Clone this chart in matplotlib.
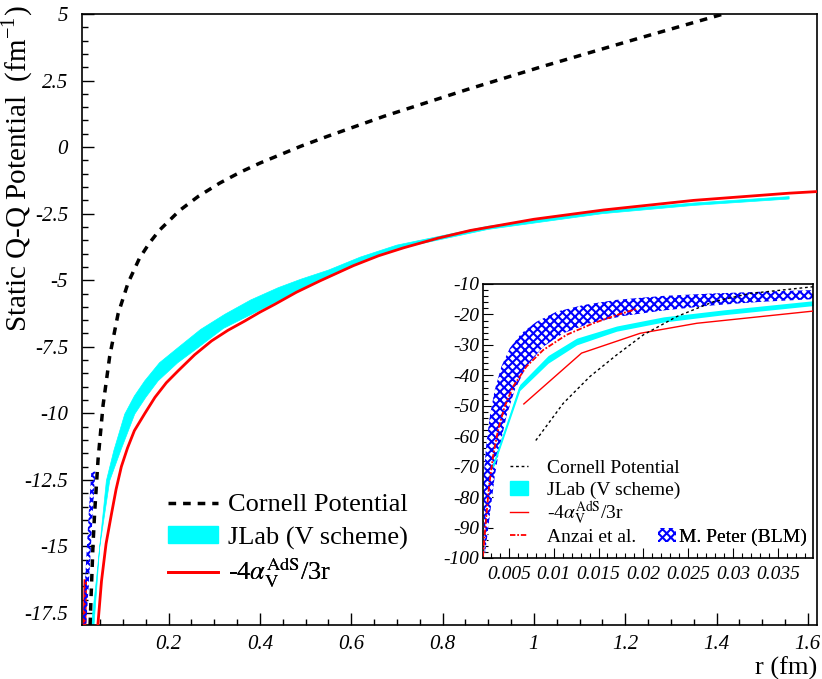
import numpy as np
import matplotlib.pyplot as plt
from matplotlib.lines import Line2D
from matplotlib.patches import Patch

plt.rcParams['font.family'] = ['Liberation Serif', 'DejaVu Serif']
plt.rcParams['mathtext.fontset'] = 'stix'
plt.rcParams['axes.unicode_minus'] = False
plt.rcParams['hatch.linewidth'] = 1.5

# ---- main panel (r in fm, V in fm^-1) ----
cornell_r = [0.028, 0.0308, 0.0345, 0.0381, 0.0454, 0.0564, 0.071, 0.0892, 0.111, 0.136,
             0.158, 0.180, 0.224, 0.265, 0.312, 0.356, 0.400, 0.489, 0.547, 0.672,
             0.855, 1.017, 1.222, 1.415]
cornell_v = [-17.96, -16.6, -14.9, -13.7, -11.75, -9.7, -7.85, -6.27, -5.11, -4.18,
             -3.6, -3.12, -2.38, -1.85, -1.35, -0.95, -0.60, 0.03, 0.40, 1.16,
             2.17, 3.02, 4.05, 5.0]

jlab_up_r = [0.0308, 0.0417, 0.0564, 0.0637, 0.08, 0.1039, 0.125, 0.1477, 0.18, 0.2208,
             0.27, 0.3231, 0.38, 0.4401, 0.49, 0.55, 0.62, 0.70, 0.90, 1.15, 1.35, 1.559]
jlab_up_v = [-17.96, -16.28, -13.78, -12.53, -11.4, -10.03, -9.35, -8.78, -8.1, -7.53,
             -6.85, -6.28, -5.74, -5.28, -4.96, -4.62, -4.13, -3.68, -2.97, -2.40, -2.10, -1.86]
jlab_lo_r = [0.0366, 0.0490, 0.0710, 0.095, 0.1258, 0.15, 0.1770, 0.22, 0.2647, 0.32,
             0.3816, 0.4401, 0.49, 0.55, 0.62, 0.70, 0.90, 1.15, 1.35, 1.559]
jlab_lo_v = [-17.96, -15.03, -12.53, -11.4, -10.03, -9.4, -8.78, -8.1, -7.53, -6.81,
             -6.28, -5.78, -5.35, -4.90, -4.34, -3.82, -3.09, -2.50, -2.19, -1.95]

ads_r = [0.045, 0.053, 0.063, 0.0746, 0.085, 0.0965, 0.11, 0.125, 0.148, 0.170, 0.195,
         0.221, 0.257, 0.294, 0.33, 0.367, 0.40, 0.433, 0.48, 0.532, 0.605, 0.66, 0.715,
         0.79, 0.861, 1.0, 1.153, 1.35, 1.559, 1.62]
ads_v = [-17.96, -16.3, -14.9, -13.8, -12.85, -12.0, -11.3, -10.65, -10.0, -9.4, -8.85,
         -8.4, -7.8, -7.28, -6.88, -6.53, -6.2, -5.9, -5.45, -5.02, -4.45, -4.08, -3.78,
         -3.42, -3.13, -2.71, -2.36, -2.0, -1.73, -1.67]

anzai_main_r = [0.0160, 0.0175]
anzai_main_v = [-17.96, -16.3]

peter_main_l_r = [0.0307, 0.0249, 0.0190, 0.0118]
peter_main_r_r = [0.0395, 0.0337, 0.0279, 0.0198]
peter_main_v = [-12.19, -13.78, -15.65, -17.9]

# ---- inset (small r) ----
in_cornell_r = [0.00801, 0.01107, 0.01404, 0.01702, 0.02000, 0.02372, 0.02782, 0.03191, 0.03891]
in_cornell_v = [-61.4, -49.2, -40.4, -33.3, -26.7, -20.7, -15.8, -13.1, -10.9]

in_jlab_r = [0.00325, 0.00623, 0.00939, 0.01256, 0.01702, 0.02223, 0.02893, 0.03891]
in_jlab_up = [-69.5, -43.0, -33.5, -27.8, -23.8, -20.8, -18.5, -15.5]
in_jlab_lo = [-70.5, -45.0, -36.0, -30.0, -25.5, -22.5, -20.1, -17.1]

in_ads_r = [0.00668, 0.01311, 0.01963, 0.02596, 0.03891]
in_ads_v = [-49.4, -32.7, -26.2, -22.9, -18.9]

in_anzai_r = [0.00213, 0.00243, 0.00280, 0.00325, 0.00381, 0.00455, 0.00548, 0.00697,
              0.00883, 0.01144, 0.01442, 0.01702, 0.01926]
in_anzai_v = [-99.5, -88.5, -76.5, -66.6, -57.9, -50.2, -43.7, -37.1, -31.7, -26.7,
              -22.9, -20.2, -18.2]

peter_up_r = [0.00213, 0.00251, 0.00288, 0.00344, 0.00418, 0.00511, 0.00641, 0.00809,
              0.01032, 0.01330, 0.01702, 0.02223, 0.02782, 0.03340, 0.03891]
peter_up_v = [-75.4, -62.3, -53.5, -44.8, -37.1, -31.1, -26.2, -22.4, -19.1, -16.9,
              -15.2, -13.9, -13.1, -12.5, -12.0]
peter_lo_r = [0.00232, 0.00288, 0.00344, 0.00400, 0.00474, 0.00567, 0.00697, 0.00883,
              0.01107, 0.01404, 0.01777, 0.02223, 0.02782, 0.03340, 0.03891]
peter_lo_v = [-99.5, -86.3, -73.2, -63.4, -53.5, -44.8, -37.1, -30.6, -26.2, -22.9,
              -20.5, -18.7, -17.0, -15.8, -15.0]

x_ticks = [0.2, 0.4, 0.6, 0.8, 1.0, 1.2, 1.4, 1.6]
x_labels = ['0.2', '0.4', '0.6', '0.8', '1', '1.2', '1.4', '1.6']
y_ticks = [5, 2.5, 0, -2.5, -5, -7.5, -10, -12.5, -15, -17.5]
y_labels = ['5', '2.5', '0', '-2.5', '-5', '-7.5', '-10', '-12.5', '-15', '-17.5']
in_x_ticks = [0.005, 0.01, 0.015, 0.02, 0.025, 0.03, 0.035]
in_x_labels = ['0.005', '0.01', '0.015', '0.02', '0.025', '0.03', '0.035']
in_y_ticks = [-10, -20, -30, -40, -50, -60, -70, -80, -90, -100]
in_y_labels = ['-10', '-20', '-30', '-40', '-50', '-60', '-70', '-80', '-90', '-100']

W, H = 822, 679
fig = plt.figure(figsize=(W / 100, H / 100), dpi=100)
ax = fig.add_axes([82 / W, 54 / H, 735 / W, 611 / H])


def legend_row(axes, handle, label, x, y, fs, hl, pad, hh=0.6):
    lg = axes.legend([handle], [label], loc='center left', bbox_to_anchor=(x / W, 1 - y / H),
                     bbox_transform=fig.transFigure, frameon=False, fontsize=fs, borderpad=0,
                     borderaxespad=0, handlelength=hl, handletextpad=pad, handleheight=hh)
    axes.add_artist(lg)


ax.fill(jlab_up_r + jlab_lo_r[::-1], jlab_up_v + jlab_lo_v[::-1], color='cyan', lw=0.5, zorder=2)
ax.plot(ads_r, ads_v, color='red', lw=2, zorder=3)
ax.plot(cornell_r, cornell_v, color='black', lw=2.5, ls=(0, (2.2, 2.0)), zorder=4)
ax.plot(anzai_main_r, anzai_main_v, color='red', lw=2.5, zorder=3)
ax.fill(peter_main_l_r + peter_main_r_r[::-1], peter_main_v + peter_main_v[::-1],
        facecolor='none', edgecolor='blue', hatch='xxxx', lw=0, zorder=3)

ax.set_xlim(0.0103, 1.62)
ax.set_ylim(-17.95, 5)
ax.set_xticks(x_ticks, x_labels, fontstyle='italic', fontsize=15)
ax.set_yticks(y_ticks, y_labels, fontstyle='italic', fontsize=15)
ax.set_xticks(np.arange(0.05, 1.61, 0.05), minor=True)
ax.set_yticks(np.arange(-17.5, 5.01, 0.5), minor=True)
ax.tick_params(which='both', direction='in', top=False, right=False, width=1)
ax.tick_params(which='major', length=8.5)
ax.tick_params(which='minor', length=4.3)
ax.tick_params(axis='y', pad=10)
ax.tick_params(axis='x', pad=7)
for s in ax.spines.values():
    s.set_linewidth(1.2)

legend_row(ax, Line2D([], [], color='black', lw=2.5, ls=(0, (2.2, 2.0))), 'Cornell Potential',
           168, 505, 19, 1.9, 0.38)
legend_row(ax, Patch(facecolor='cyan', edgecolor='cyan'), 'JLab (V scheme)',
           168, 538, 19, 1.9, 0.38)
legend_row(ax, Line2D([], [], color='red', lw=2), r'-4$\alpha_{\rm V}^{\rm AdS}$/3r',
           168, 573, 19, 1.9, 0.38)

fig.text(18 / W, 1 - 5 / H, r'Static Q-Q Potential  (fm$^{\mathregular{-1}}$)', rotation=90,
         ha='center', va='top', fontsize=21)
fig.text(817 / W, 1 - 668 / H, 'r (fm)', ha='right', va='center', fontsize=19)

# ---- inset ----
axi = fig.add_axes([483 / W, 121 / H, 330 / W, 274 / H])
axi.fill(peter_up_r + peter_lo_r[::-1], peter_up_v + peter_lo_v[::-1],
         facecolor='white', edgecolor='blue', hatch='xxxx', lw=0, zorder=2)
axi.plot(in_anzai_r, in_anzai_v, color='red', lw=1.3, ls=(0, (3, 1, 1, 1)), zorder=3)
axi.fill_between(in_jlab_r, in_jlab_lo, in_jlab_up, color='cyan', lw=0, zorder=2)
axi.plot(in_jlab_r, [(a + b) / 2 for a, b in zip(in_jlab_up, in_jlab_lo)], color='cyan', lw=1, zorder=2)
axi.plot(in_ads_r, in_ads_v, color='red', lw=1, zorder=3)
axi.plot(in_cornell_r, in_cornell_v, color='black', lw=1, ls=(0, (2, 2)), zorder=4)

axi.set_xlim(0.00213, 0.0389)
axi.set_ylim(-100, -10)
axi.set_xticks(in_x_ticks, in_x_labels, fontstyle='italic', fontsize=14)
axi.set_yticks(in_y_ticks, in_y_labels, fontstyle='italic', fontsize=14)
axi.set_xticks(np.arange(0.003, 0.0389, 0.001), minor=True)
axi.set_yticks(np.arange(-98, -10, 2), minor=True)
axi.tick_params(which='both', direction='in', top=False, right=False, width=0.8)
axi.tick_params(which='major', length=7)
axi.tick_params(which='minor', length=3.5)
axi.tick_params(axis='y', pad=3)
axi.tick_params(axis='x', pad=6)
for s in axi.spines.values():
    s.set_linewidth(1.2)

legend_row(axi, Line2D([], [], color='black', lw=1, ls=(0, (2, 2))), 'Cornell Potential',
           510, 468, 14, 0.9, 1.0)
legend_row(axi, Patch(facecolor='cyan', edgecolor='cyan'), 'JLab (V scheme)',
           510, 490, 14, 0.9, 1.0, 0.7)
legend_row(axi, Line2D([], [], color='red', lw=1), r'-4$\alpha_{\rm V}^{\rm AdS}$/3r',
           510, 513, 14, 0.9, 1.0)
legend_row(axi, Line2D([], [], color='red', lw=1.3, ls=(0, (3, 1, 1, 1))), 'Anzai et al.',
           510, 537, 14, 0.9, 1.0)
legend_row(axi, Patch(facecolor='white', edgecolor='blue', hatch='xxxx', lw=0), 'M. Peter (BLM)',
           658, 537, 14, 0.9, 0.2, 0.7)

fig.savefig('out.png', dpi=100)
